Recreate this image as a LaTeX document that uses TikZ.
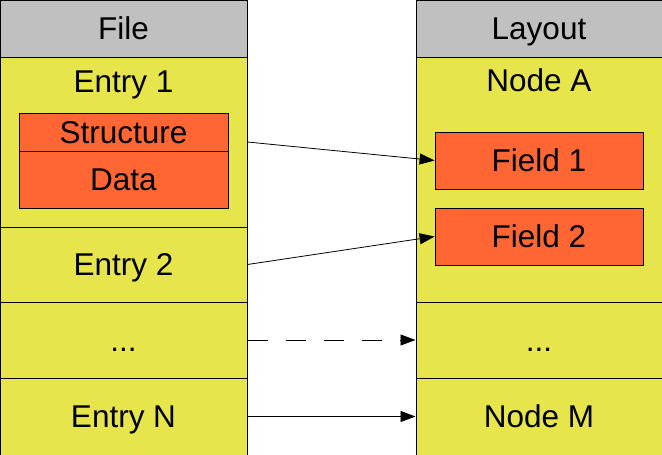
\documentclass[tikz,border=0pt]{standalone}
\usepackage{fontspec}
\setmainfont{Liberation Sans}
\usetikzlibrary{arrows.meta}
\definecolor{cellyellow}{HTML}{E6E64C}
\definecolor{fieldorange}{HTML}{FF6633}
\definecolor{headgray}{HTML}{C0C0C0}
\tikzstyle{head}=[rectangle,draw=black,fill=headgray,line width=1pt,inner sep=0pt,minimum height=57pt]
\tikzstyle{cell}=[rectangle,draw=black,fill=cellyellow,line width=1pt,inner sep=0pt]
\tikzstyle{part}=[rectangle,draw=black,fill=fieldorange,line width=0.8pt,inner sep=0pt]
\tikzstyle{link}=[line width=0.8pt,-{Triangle[length=15pt,width=11pt]}]

\begin{document}
\begin{tikzpicture}[x=1pt,y=-1pt,font=\fontsize{31.5}{38}\selectfont,text height=22.5pt,text depth=0pt]
			\useasboundingbox (0,0) rectangle (662,455);
			
			% file column
			\node (filehead) at (123.5,28.5) [head,minimum width=247pt] {File};
			\node (entry1) at (123.5,142) [cell,minimum width=247pt,minimum height=170pt,text height=0pt] {};
			\node (entry2) at (123.5,264.5) [cell,minimum width=247pt,minimum height=75pt] {Entry 2};
			\node (fdots) at (123.5,340) [cell,minimum width=247pt,minimum height=76pt] {...};
			\node (entryn) at (123.5,416.5) [cell,minimum width=247pt,minimum height=77pt] {Entry N};
			\node (entry1text) at (123.5,81) {Entry 1};
			\node (structure) at (123.5,132) [part,minimum width=209pt,minimum height=38pt] {Structure};
			\node (data) at (123.5,179.5) [part,minimum width=209pt,minimum height=57pt] {Data};
			
			% layout column
			\node (layouthead) at (539,28.5) [head,minimum width=246pt] {Layout};
			\node (nodea) at (539,179.5) [cell,minimum width=246pt,minimum height=245pt,text height=0pt] {};
			\node (ldots) at (539,340) [cell,minimum width=246pt,minimum height=76pt] {...};
			\node (nodem) at (539,416.5) [cell,minimum width=246pt,minimum height=77pt] {Node M};
			\node (nodeatext) at (539,80) {Node A};
			\node (field1) at (539,160.5) [part,minimum width=208pt,minimum height=57pt] {Field 1};
			\node (field2) at (539,236.5) [part,minimum width=208pt,minimum height=57pt] {Field 2};
			
			\draw [link] (entry1.east) -- (field1.west);
			\draw [link] (entry2.east) -- (field2.west);
			\draw [link,dash pattern=on 20pt off 18pt] (fdots.east) -- (ldots.west);
			\draw [link] (entryn.east) -- (nodem.west);
		\end{tikzpicture}
\end{document}
